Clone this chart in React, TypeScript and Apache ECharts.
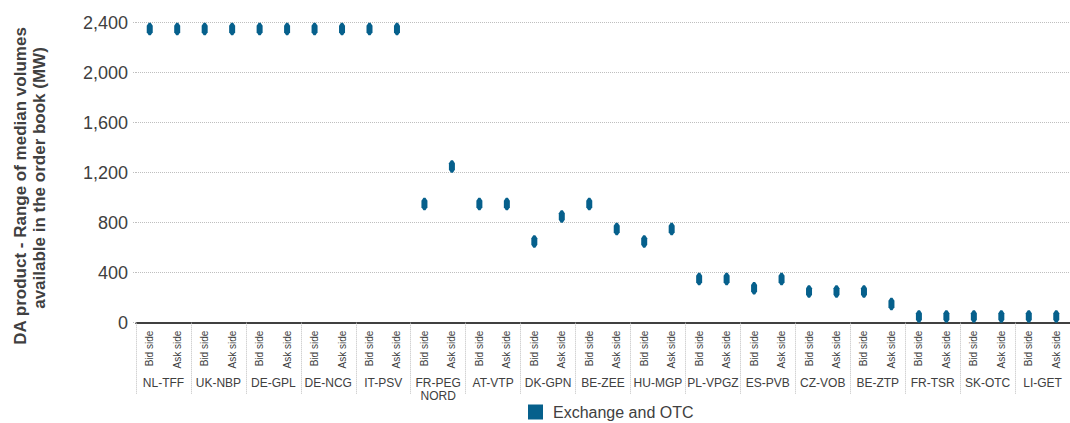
import React, { useEffect, useRef } from 'react';
import * as echarts from 'echarts';

const hubs = ['NL-TFF', 'UK-NBP', 'DE-GPL', 'DE-NCG', 'IT-PSV', 'FR-PEG\nNORD', 'AT-VTP', 'DK-GPN', 'BE-ZEE', 'HU-MGP', 'PL-VPGZ', 'ES-PVB', 'CZ-VOB', 'BE-ZTP', 'FR-TSR', 'SK-OTC', 'LI-GET'];
const sides = ['Bid side', 'Ask side'];
const bidLow = [2300, 2300, 2300, 2300, 2300, 900, 900, 600, 900, 600, 300, 225, 200, 200, 0, 0, 0];
const bidHigh = [2400, 2400, 2400, 2400, 2400, 1000, 1000, 700, 1000, 700, 400, 325, 300, 300, 100, 100, 100];
const askLow = [2300, 2300, 2300, 2300, 2300, 1200, 900, 800, 700, 700, 300, 300, 200, 100, 0, 0, 0];
const askHigh = [2400, 2400, 2400, 2400, 2400, 1300, 1000, 900, 800, 800, 400, 400, 300, 200, 100, 100, 100];
const seriesName = 'Exchange and OTC';
const yTicks = { min: 0, max: 2400, interval: 400 };
const titleLines = ['DA product - Range of median volumes', 'available in the order book (MW)'];

const FONT = '"Liberation Sans", Arial, sans-serif';
const BLUE = '#06608C';
const TEXT = '#404040';
const GRID = '#BFBFBF';

export default function App() {
  const ref = useRef<HTMLDivElement>(null);
  useEffect(() => {
    if (!ref.current) return;
    const chart = echarts.init(ref.current, null, { renderer: 'svg' });
    const categories: string[] = [];
    const data: number[][] = [];
    hubs.forEach((h, i) => {
      categories.push(sides[0]);
      data.push([categories.length - 1, bidLow[i], bidHigh[i]]);
      categories.push(sides[1]);
      data.push([categories.length - 1, askLow[i], askHigh[i]]);
    });
    chart.setOption({
      animation: false,
      grid: { left: 136, right: -7, top: 22.7, bottom: 100.3, containLabel: false },
      legend: {
        left: 523,
        top: 399,
        itemWidth: 15,
        itemHeight: 15,
        textStyle: { fontFamily: FONT, fontSize: 16, color: TEXT, padding: [0, 0, 0, 5] },
        data: [{ name: seriesName, icon: 'rect' }],
      },
      xAxis: [
        {
          type: 'category',
          data: categories,
          boundaryGap: true,
          axisLine: { show: true, lineStyle: { color: TEXT, width: 2 } },
          axisTick: { show: false },
          axisLabel: {
            interval: 0,
            rotate: 90,
            margin: 8,
            fontFamily: FONT,
            fontSize: 10,
            color: TEXT,
          },
          splitLine: { show: false },
        },
        {
          type: 'category',
          data: hubs,
          position: 'bottom',
          boundaryGap: true,
          axisLine: { show: false },
          axisTick: { show: true, length: 72, lineStyle: { color: GRID, type: 'dotted', width: 1 } },
          axisLabel: {
            interval: 0,
            margin: 54,
            fontFamily: FONT,
            fontSize: 12,
            lineHeight: 13,
            color: TEXT,
            verticalAlign: 'top',
          },
          splitLine: { show: false },
        },
      ],
      yAxis: {
        type: 'value',
        min: yTicks.min,
        max: yTicks.max,
        interval: yTicks.interval,
        axisLine: { show: false },
        axisTick: { show: true, length: 4, lineStyle: { color: GRID, type: 'dotted' } },
        splitLine: { show: true, lineStyle: { color: GRID, type: 'dotted', width: 1 } },
        axisLabel: {
          margin: 8,
          fontFamily: FONT,
          fontSize: 18,
          color: TEXT,
          formatter: (v: number) => v.toLocaleString('en-US'),
        },
      },
      graphic: [
        {
          type: 'text',
          x: 20,
          y: 186,
          rotation: Math.PI / 2,
          style: { text: titleLines[0], font: `bold 17px ${FONT}`, fill: TEXT, align: 'center', verticalAlign: 'middle' },
        },
        {
          type: 'text',
          x: 39,
          y: 178,
          rotation: Math.PI / 2,
          style: { text: titleLines[1], font: `bold 17px ${FONT}`, fill: TEXT, align: 'center', verticalAlign: 'middle' },
        },
      ],
      series: [
        {
          name: seriesName,
          type: 'custom',
          xAxisIndex: 0,
          itemStyle: { color: BLUE },
          encode: { x: 0, y: [1, 2] },
          data,
          renderItem: (params: any, api: any) => {
            const i = api.value(0);
            const lo = api.coord([i, api.value(1)]);
            const hi = api.coord([i, api.value(2)]);
            const cx = lo[0];
            const w = 3;
            const t = 3;
            return {
              type: 'polygon',
              shape: {
                points: [
                  [cx - 1, hi[1]],
                  [cx + 1, hi[1]],
                  [cx + w, hi[1] + t],
                  [cx + w, lo[1] - t],
                  [cx + 1, lo[1]],
                  [cx - 1, lo[1]],
                  [cx - w, lo[1] - t],
                  [cx - w, hi[1] + t],
                ],
              },
              style: api.style(),
            };
          },
        },
      ],
    });
    return () => chart.dispose();
  }, []);
  return <div ref={ref} style={{ position: 'absolute', left: 0, top: 0, width: 1070, height: 423 }} />;
}
